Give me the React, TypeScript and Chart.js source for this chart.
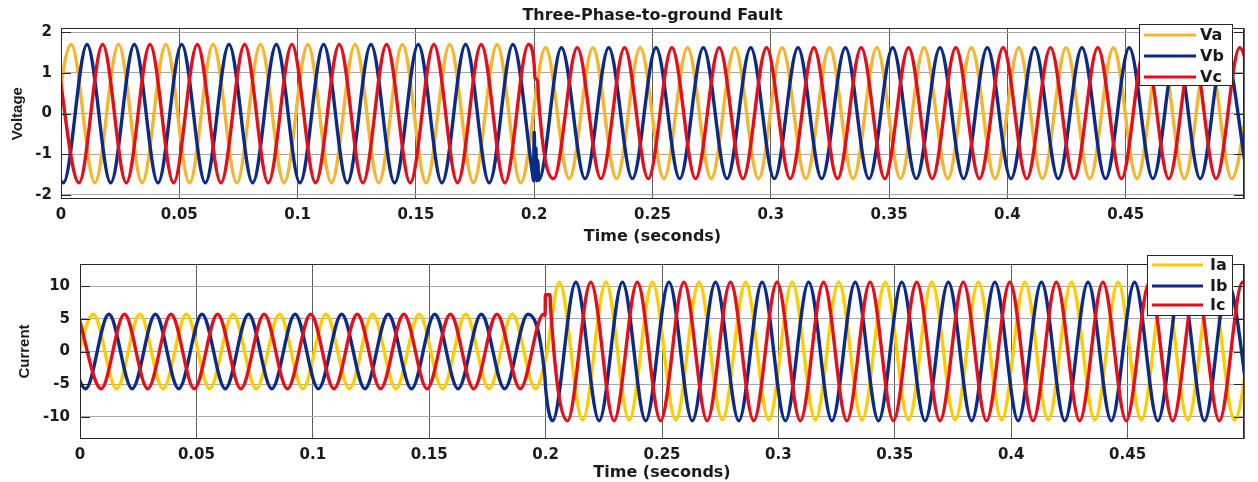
import React, { useEffect, useRef } from 'react';
import { Chart, registerables } from 'chart.js';

Chart.register(...registerables);

// ---------------- axis ticks ----------------
const X_TICKS = [0, 0.05, 0.1, 0.15, 0.2, 0.25, 0.3, 0.35, 0.4, 0.45, 0.5];
const X_TICK_LABELS = ['0', '0.05', '0.1', '0.15', '0.2', '0.25', '0.3', '0.35', '0.4', '0.45', ''];
const V_TICKS = [-2, -1, 0, 1, 2];
const I_TICKS = [-10, -5, 0, 5, 10];

const V_LABELS = ['Va', 'Vb', 'Vc'];
const I_LABELS = ['Ia', 'Ib', 'Ic'];

// ---------------- turning points (time in ms, value) ----------------
// Voltage phase a
const VA_T = [-5.7, 4.3, 14.3, 24.3, 34.3, 44.3, 54.3, 64.3, 74.3, 84.3, 94.3, 104.3, 114.3, 124.3, 134.3, 144.3, 154.3, 164.3, 174.3, 184.3, 194.3,
  204.8, 214.8, 224.8, 234.8, 244.8, 254.8, 264.8, 274.8, 284.8, 294.8, 304.8, 314.8, 324.8, 334.8, 344.8, 354.8, 364.8, 374.8, 384.8, 394.8, 404.8, 414.8, 424.8, 434.8, 444.8, 454.8, 464.8, 474.8, 484.8, 494.8, 504.8];
const VA_V = [-1.7, 1.7, -1.7, 1.7, -1.7, 1.7, -1.7, 1.7, -1.7, 1.7, -1.7, 1.7, -1.7, 1.7, -1.7, 1.7, -1.7, 1.7, -1.7, 1.7, -1.7,
  1.62, -1.6, 1.62, -1.6, 1.62, -1.6, 1.62, -1.6, 1.62, -1.6, 1.62, -1.6, 1.62, -1.6, 1.62, -1.6, 1.62, -1.6, 1.62, -1.6, 1.62, -1.6, 1.62, -1.6, 1.62, -1.6, 1.62, -1.6, 1.62, -1.6, 1.62];
// Voltage phase b
const VB_T = [-9, 1, 11, 21, 31, 41, 51, 61, 71, 81, 91, 101, 111, 121, 131, 141, 151, 161, 171, 181, 191,
  199.2, 199.7, 200.0, 200.4, 200.7, 201.1, 201.5, 201.9,
  211.5, 221.5, 231.5, 241.5, 251.5, 261.5, 271.5, 281.5, 291.5, 301.5, 311.5, 321.5, 331.5, 341.5, 351.5, 361.5, 371.5, 381.5, 391.5, 401.5, 411.5, 421.5, 431.5, 441.5, 451.5, 461.5, 471.5, 481.5, 491.5, 501.5];
const VB_V = [1.7, -1.7, 1.7, -1.7, 1.7, -1.7, 1.7, -1.7, 1.7, -1.7, 1.7, -1.7, 1.7, -1.7, 1.7, -1.7, 1.7, -1.7, 1.7, -1.7, 1.7,
  -1.45, -1.65, -0.45, -1.6, -0.85, -1.65, -1.15, -1.64,
  1.62, -1.6, 1.62, -1.6, 1.62, -1.6, 1.62, -1.6, 1.62, -1.6, 1.62, -1.6, 1.62, -1.6, 1.62, -1.6, 1.62, -1.6, 1.62, -1.6, 1.62, -1.6, 1.62, -1.6, 1.62, -1.6, 1.62, -1.6, 1.62, -1.6];
// Voltage phase c
const VC_T = [-2.4, 7.6, 17.6, 27.6, 37.6, 47.6, 57.6, 67.6, 77.6, 87.6, 97.6, 107.6, 117.6, 127.6, 137.6, 147.6, 157.6, 167.6, 177.6, 187.6, 197.6,
  200.0, 200.3, 201.5, 201.8,
  208.2, 218.2, 228.2, 238.2, 248.2, 258.2, 268.2, 278.2, 288.2, 298.2, 308.2, 318.2, 328.2, 338.2, 348.2, 358.2, 368.2, 378.2, 388.2, 398.2, 408.2, 418.2, 428.2, 438.2, 448.2, 458.2, 468.2, 478.2, 488.2, 498.2, 508.2];
const VC_V = [1.7, -1.7, 1.7, -1.7, 1.7, -1.7, 1.7, -1.7, 1.7, -1.7, 1.7, -1.7, 1.7, -1.7, 1.7, -1.7, 1.7, -1.7, 1.7, -1.7, 1.7,
  1.2, 0.88, 0.8, 0.42,
  -1.6, 1.62, -1.6, 1.62, -1.6, 1.62, -1.6, 1.62, -1.6, 1.62, -1.6, 1.62, -1.6, 1.62, -1.6, 1.62, -1.6, 1.62, -1.6, 1.62, -1.6, 1.62, -1.6, 1.62, -1.6, 1.62, -1.6, 1.62, -1.6, 1.62, -1.6, 1.62, -1.6, 1.62, -1.6, 1.62, -1.6];

// Current phase a
const IA_T = [-4.3, 5.7, 15.7, 25.7, 35.7, 45.7, 55.7, 65.7, 75.7, 85.7, 95.7, 105.7, 115.7, 125.7, 135.7, 145.7, 155.7, 165.7, 175.7, 185.7, 195.7,
  200.0,
  205.9, 215.9, 225.9, 235.9, 245.9, 255.9, 265.9, 275.9, 285.9, 295.9, 305.9, 315.9, 325.9, 335.9, 345.9, 355.9, 365.9, 375.9, 385.9, 395.9, 405.9, 415.9, 425.9, 435.9, 445.9, 455.9, 465.9, 475.9, 485.9, 495.9, 505.9];
const IA_V = [-5.7, 5.7, -5.7, 5.7, -5.7, 5.7, -5.7, 5.7, -5.7, 5.7, -5.7, 5.7, -5.7, 5.7, -5.7, 5.7, -5.7, 5.7, -5.7, 5.7, -5.7,
  -1.2,
  10.6, -10.5, 10.6, -10.5, 10.6, -10.5, 10.6, -10.5, 10.6, -10.5, 10.6, -10.5, 10.6, -10.5, 10.6, -10.5, 10.6, -10.5, 10.6, -10.5, 10.6, -10.5, 10.6, -10.5, 10.6, -10.5, 10.6, -10.5, 10.6, -10.5, 10.6];
// Current phase b
const IB_T = [-7.6, 2.4, 12.4, 22.4, 32.4, 42.4, 52.4, 62.4, 72.4, 82.4, 92.4, 102.4, 112.4, 122.4, 132.4, 142.4, 152.4, 162.4, 172.4, 182.4, 192.4,
  199.7, 200.0,
  203, 213, 223, 233, 243, 253, 263, 273, 283, 293, 303, 313, 323, 333, 343, 353, 363, 373, 383, 393, 403, 413, 423, 433, 443, 453, 463, 473, 483, 493, 503];
const IB_V = [5.7, -5.7, 5.7, -5.7, 5.7, -5.7, 5.7, -5.7, 5.7, -5.7, 5.7, -5.7, 5.7, -5.7, 5.7, -5.7, 5.7, -5.7, 5.7, -5.7, 5.7,
  -3.9, -5.6,
  -10.6, 10.6, -10.6, 10.6, -10.6, 10.6, -10.6, 10.6, -10.6, 10.6, -10.6, 10.6, -10.6, 10.6, -10.6, 10.6, -10.6, 10.6, -10.6, 10.6, -10.6, 10.6, -10.6, 10.6, -10.6, 10.6, -10.6, 10.6, -10.6, 10.6, -10.6];
// Current phase c
const IC_T = [-0.9, 9.1, 19.1, 29.1, 39.1, 49.1, 59.1, 69.1, 79.1, 89.1, 99.1, 109.1, 119.1, 129.1, 139.1, 149.1, 159.1, 169.1, 179.1, 189.1, 199.1,
  199.8, 199.9, 201.9, 202.1,
  209.4, 219.4, 229.4, 239.4, 249.4, 259.4, 269.4, 279.4, 289.4, 299.4, 309.4, 319.4, 329.4, 339.4, 349.4, 359.4, 369.4, 379.4, 389.4, 399.4, 409.4, 419.4, 429.4, 439.4, 449.4, 459.4, 469.4, 479.4, 489.4, 499.4, 509.4];
const IC_V = [5.7, -5.7, 5.7, -5.7, 5.7, -5.7, 5.7, -5.7, 5.7, -5.7, 5.7, -5.7, 5.7, -5.7, 5.7, -5.7, 5.7, -5.7, 5.7, -5.7, 5.7,
  5.5, 8.7, 8.7, 7.0,
  -10.6, 10.6, -10.6, 10.6, -10.6, 10.6, -10.6, 10.6, -10.6, 10.6, -10.6, 10.6, -10.6, 10.6, -10.6, 10.6, -10.6, 10.6, -10.6, 10.6, -10.6, 10.6, -10.6, 10.6, -10.6, 10.6, -10.6, 10.6, -10.6, 10.6, -10.6, 10.6, -10.6, 10.6, -10.6, 10.6, -10.6];

// ---------------- styling ----------------
const COLORS_V = ['#F5B52E', '#0C2A87', '#E3101B'];
const COLORS_I = ['#FFCC00', '#0C2A87', '#E3101B'];
const TEXT = '#1a1a1a';
const FONT_FAMILY = "'DejaVu Sans', sans-serif";
const TICK_FONT = { family: FONT_FAMILY, weight: 'bold' as const, size: 15 };

const toPts = (t: number[], v: number[]) => t.map((ms, i) => ({ x: ms / 1000, y: v[i] }));

const frameLegendPlugin = {
  id: 'frameLegend',
  afterDatasetsDraw(chart: any, _args: any, opts: any) {
    const { ctx, chartArea: a } = chart;
    ctx.save();
    const L = Math.round(a.left), T = Math.round(a.top), R = Math.round(a.right), B = Math.round(a.bottom);
    ctx.strokeStyle = '#262626';
    ctx.lineWidth = 1;
    ctx.strokeRect(L + 0.5, T + 0.5, R - L - 1, B - T - 1);
    // inward y tick marks (left and right)
    const ys = chart.scales.y;
    ys.ticks.forEach((tk: any) => {
      const py = Math.round(ys.getPixelForValue(tk.value)) + 0.5;
      ctx.beginPath();
      ctx.moveTo(L, py); ctx.lineTo(L + 10, py);
      ctx.moveTo(R, py); ctx.lineTo(R - 10, py);
      ctx.stroke();
    });
    const lg = opts.legend;
    if (lg) {
      ctx.fillStyle = '#ffffff';
      ctx.fillRect(lg.x, lg.y, lg.w, lg.h);
      ctx.strokeStyle = '#262626';
      ctx.lineWidth = 1;
      ctx.strokeRect(lg.x + 0.5, lg.y + 0.5, lg.w, lg.h);
      ctx.font = `bold 16px ${FONT_FAMILY}`;
      ctx.textBaseline = 'middle';
      ctx.textAlign = 'left';
      chart.data.datasets.forEach((ds: any, i: number) => {
        const y = lg.y + lg.rows[i];
        ctx.strokeStyle = ds.borderColor;
        ctx.lineWidth = 3;
        ctx.beginPath();
        ctx.moveTo(lg.x + lg.l0, y);
        ctx.lineTo(lg.x + lg.l1, y);
        ctx.stroke();
        ctx.fillStyle = TEXT;
        ctx.fillText(ds.label, lg.x + lg.tx, y + 1);
      });
    }
    ctx.restore();
  },
};

function makeDatasets(labels: string[], colors: string[], series: { x: number; y: number }[][]) {
  return series.map((data, i) => ({
    label: labels[i],
    data,
    borderColor: colors[i],
    backgroundColor: colors[i],
    borderWidth: 3.4,
    pointRadius: 0,
    cubicInterpolationMode: 'monotone' as const,
    order: 3 - i,
    clip: 0,
  }));
}

function makeConfig(which: 'V' | 'I'): any {
  const isV = which === 'V';
  const datasets = isV
    ? makeDatasets(V_LABELS, COLORS_V, [toPts(VA_T, VA_V), toPts(VB_T, VB_V), toPts(VC_T, VC_V)])
    : makeDatasets(I_LABELS, COLORS_I, [toPts(IA_T, IA_V), toPts(IB_T, IB_V), toPts(IC_T, IC_V)]);
  const yTicks = isV ? V_TICKS : I_TICKS;
  return {
    type: 'line',
    data: { datasets },
    plugins: [frameLegendPlugin],
    options: {
      animation: false,
      responsive: false,
      devicePixelRatio: 1,
      events: [],
      layout: { padding: { left: 0, right: 14, top: isV ? 0 : 10, bottom: 0 } },
      elements: { line: { capBezierPoints: false } },
      plugins: {
        legend: { display: false },
        tooltip: { enabled: false },
        title: {
          display: isV,
          text: 'Three-Phase-to-ground Fault',
          fullSize: false,
          color: TEXT,
          font: { family: FONT_FAMILY, weight: 'bold', size: 16, lineHeight: 1.2 },
          padding: { top: 6.4, bottom: 2.6 },
        },
        frameLegend: {
          legend: isV
            ? { x: 1139, y: 24, w: 93, h: 61, rows: [11, 32, 53], l0: 5, l1: 57, tx: 61 }
            : { x: 1147, y: 10, w: 85, h: 60, rows: [10, 31, 50], l0: 5, l1: 56, tx: 63 },
        },
      },
      scales: {
        x: {
          type: 'linear',
          min: 0,
          max: 0.5,
          afterBuildTicks: (s: any) => { s.ticks = X_TICKS.map((v) => ({ value: v })); },
          afterFit: (s: any) => { s.height = isV ? 46 : 43; },
          ticks: {
            autoSkip: false,
            maxRotation: 0,
            padding: 7,
            color: TEXT,
            font: TICK_FONT,
            callback: (_v: any, i: number) => X_TICK_LABELS[i],
          },
          grid: { color: '#5e5e5e', lineWidth: 1, drawTicks: false },
          border: { display: false },
          title: {
            display: true,
            text: 'Time (seconds)',
            color: TEXT,
            font: { family: FONT_FAMILY, weight: 'bold', size: 16, lineHeight: isV ? 1.0 : 1.125 },
            padding: { top: 0, bottom: 0 },
          },
        },
        y: {
          type: 'linear',
          min: isV ? -2.1 : -13.4,
          max: isV ? 2.1 : 13.4,
          afterBuildTicks: (s: any) => { s.ticks = yTicks.map((v) => ({ value: v })); },
          afterFit: (s: any) => { s.width = isV ? 61 : 80; },
          ticks: {
            padding: isV ? 9 : 10,
            color: TEXT,
            font: TICK_FONT,
            callback: (v: any) => String(v),
          },
          grid: { color: '#a8a8a8', lineWidth: 1, drawTicks: false },
          border: { display: false },
          title: {
            display: true,
            text: isV ? 'Voltage' : 'Current',
            color: TEXT,
            font: { family: "'Liberation Sans', Arial, sans-serif", weight: 'bold', size: 15, lineHeight: 1.2 },
            padding: { top: isV ? 8.5 : 15.5, bottom: 0 },
          },
        },
      },
    },
  };
}

function ChartCanvas({ which, top, height }: { which: 'V' | 'I'; top: number; height: number }) {
  const ref = useRef<HTMLCanvasElement | null>(null);
  useEffect(() => {
    const chart = new Chart(ref.current as HTMLCanvasElement, makeConfig(which));
    return () => chart.destroy();
  }, [which]);
  return (
    <canvas
      ref={ref}
      width={1258}
      height={height}
      style={{ position: 'absolute', left: 0, top, width: 1258, height, display: 'block' }}
    />
  );
}

export default function App() {
  return (
    <div style={{ position: 'absolute', left: 0, top: 0, width: 1258, height: 482, background: '#ffffff', overflow: 'hidden' }}>
      <ChartCanvas which="V" top={0} height={245} />
      <ChartCanvas which="I" top={245} height={237} />
    </div>
  );
}
